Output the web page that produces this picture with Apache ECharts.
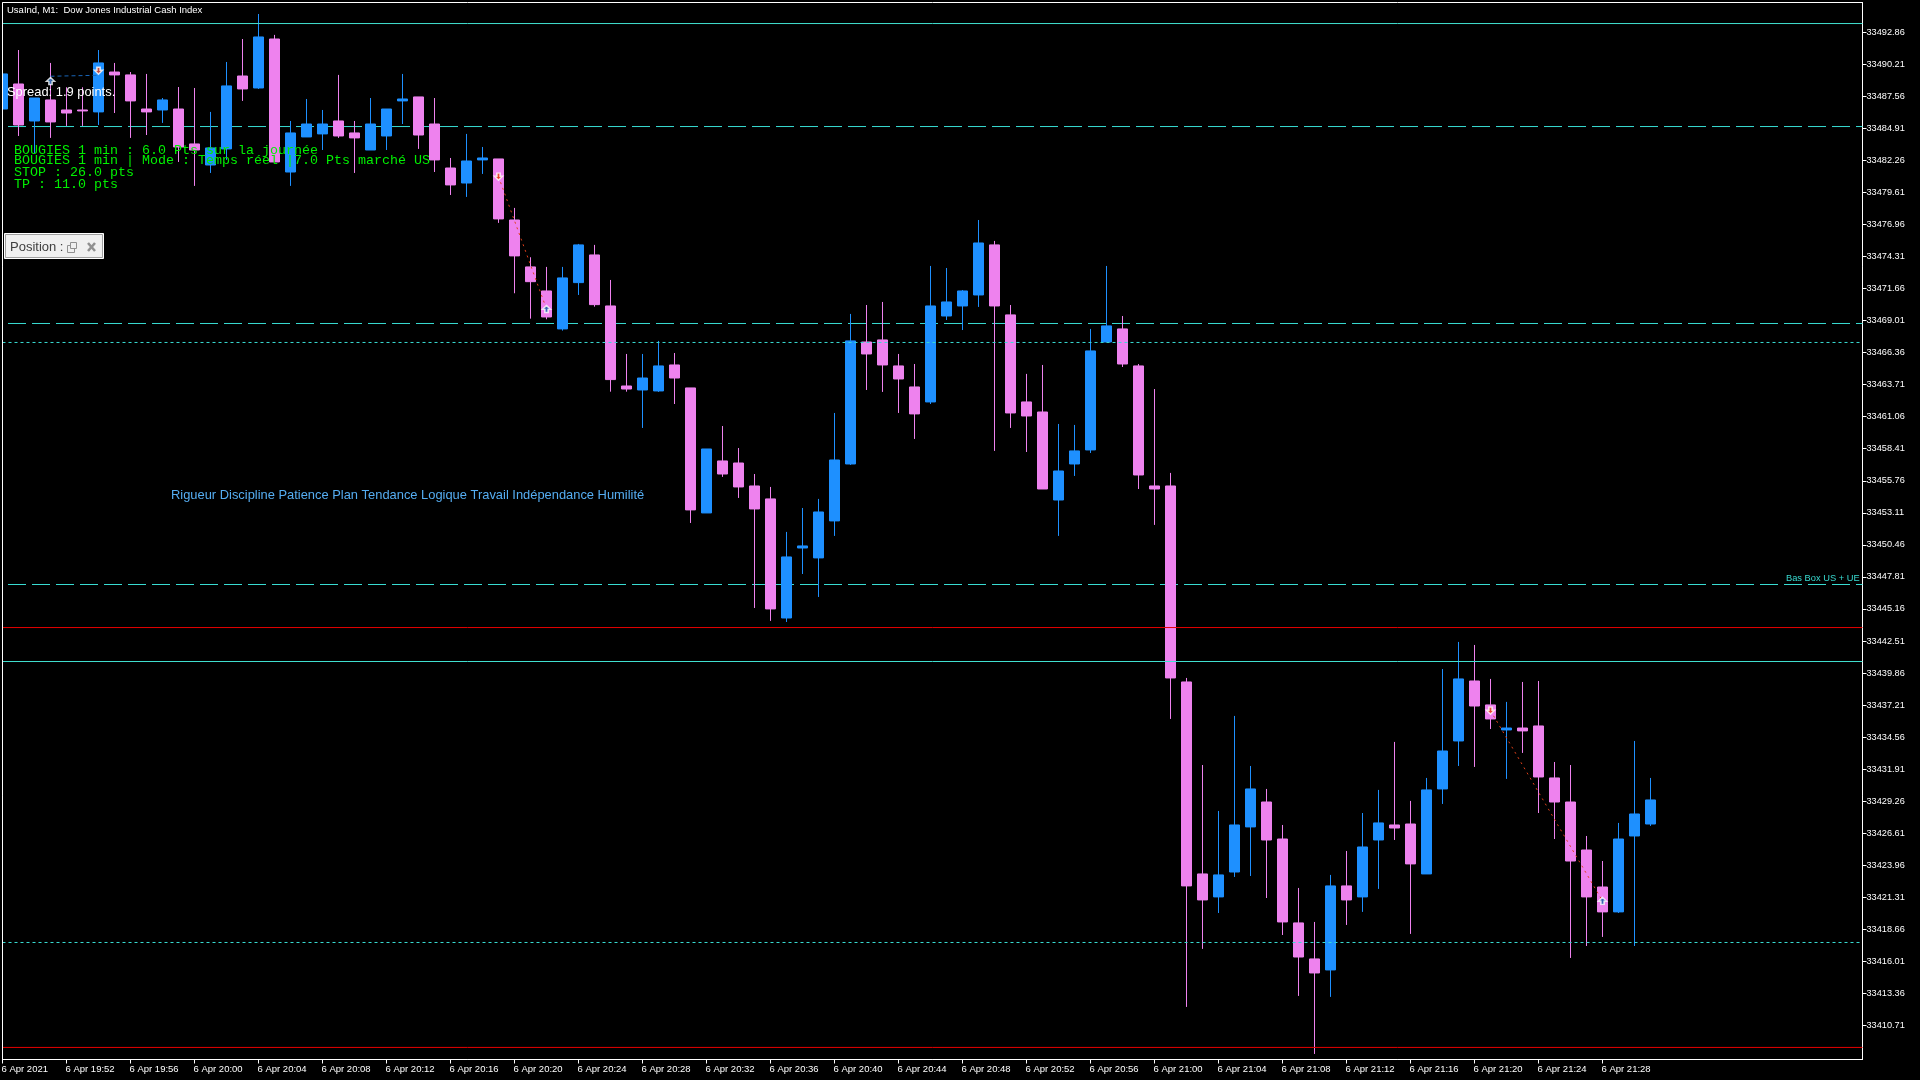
<!DOCTYPE html>
<html><head><meta charset="utf-8">
<style>html,body{margin:0;padding:0;background:#000}#c{width:1920px;height:1080px}</style>
<script src="https://cdn.jsdelivr.net/npm/echarts@6/dist/echarts.min.js"></script>
</head><body><div id="c"></div>
<script>
const opens=[33486.51,33488.58,33485.52,33487.26,33486.43,33486.43,33486.27,33489.57,33489.33,33486.51,33486.43,33486.51,33483.62,33481.88,33483.21,33489.24,33488.25,33492.30,33481.30,33484.20,33484.45,33485.52,33484.53,33483.12,33484.28,33487.18,33487.51,33485.27,33481.63,33480.39,33482.30,33482.38,33477.33,33473.45,33471.46,33468.32,33472.15,33474.44,33470.22,33463.60,33463.27,33463.19,33465.34,33463.44,33453.10,33457.40,33457.23,33455.33,33454.26,33444.41,33450.20,33449.38,33452.44,33457.15,33467.24,33467.41,33465.26,33463.52,33462.28,33469.39,33470.22,33471.13,33475.27,33469.48,33462.28,33461.45,33454.17,33457.15,33458.31,33467.24,33468.32,33465.26,33455.33,33455.33,33439.12,33423.24,33421.34,33423.40,33427.13,33429.19,33426.13,33419.19,33416.21,33415.30,33422.25,33421.34,33426.05,33427.29,33427.37,33423.24,33430.27,33434.24,33439.20,33437.22,33435.15,33435.31,33435.48,33431.18,33429.19,33425.22,33422.16,33420.10,33426.38,33427.37];
const closes=[33489.41,33485.19,33487.42,33485.44,33486.18,33486.35,33490.32,33489.33,33487.18,33486.27,33487.26,33483.37,33483.12,33483.29,33488.42,33488.17,33492.47,33482.13,33484.53,33485.27,33485.27,33484.28,33484.12,33485.27,33486.51,33487.34,33484.36,33482.30,33480.23,33482.21,33482.46,33477.42,33474.36,33472.23,33469.31,33472.54,33475.27,33470.33,33464.13,33463.35,33464.26,33465.26,33464.26,33453.35,33458.39,33456.32,33455.25,33453.43,33445.16,33449.46,33450.37,33453.18,33457.48,33467.33,33466.25,33465.34,33464.18,33461.29,33470.22,33470.55,33471.46,33475.43,33470.22,33461.37,33461.12,33455.08,33456.57,33458.23,33466.50,33468.57,33465.42,33456.24,33455.08,33439.45,33422.25,33421.09,33423.16,33427.29,33430.27,33426.05,33419.27,33416.37,33415.05,33422.25,33421.09,33425.47,33427.46,33427.04,33424.07,33430.19,33433.41,33439.37,33437.13,33436.06,33435.31,33435.07,33431.26,33429.19,33424.31,33421.34,33420.10,33426.13,33428.20,33429.36];
const lows=[33486.51,33484.28,33482.85,33484.12,33485.11,33485.11,33485.19,33486.18,33484.12,33484.36,33485.36,33482.13,33480.15,33481.22,33482.30,33487.18,33488.17,33482.13,33480.15,33484.20,33483.12,33484.12,33481.22,33483.12,33483.12,33485.27,33483.21,33481.30,33479.40,33479.24,33481.14,33477.09,33471.27,33469.17,33469.12,33468.18,33471.13,33470.16,33463.13,33463.13,33460.13,33463.11,33462.11,33452.27,33453.10,33456.08,33454.34,33445.24,33444.17,33444.08,33448.05,33446.15,33451.20,33457.07,33463.27,33463.11,33461.37,33459.22,33462.11,33469.06,33468.23,33470.14,33458.23,33460.13,33458.14,33455.08,33451.20,33456.16,33458.06,33467.24,33465.17,33455.08,33452.11,33436.06,33412.24,33417.04,33420.01,33422.99,33423.07,33421.25,33418.19,33413.15,33408.35,33413.07,33419.02,33420.10,33422.00,33426.05,33418.28,33423.24,33429.03,33432.17,33432.09,33435.23,33431.10,33433.25,33428.28,33426.13,33416.29,33417.28,33418.03,33420.01,33417.28,33427.21];
const highs=[33489.41,33491.39,33487.42,33490.32,33488.31,33488.31,33491.39,33490.32,33489.57,33489.41,33487.42,33488.33,33488.25,33486.27,33490.40,33492.30,33494.37,33492.64,33485.52,33487.34,33486.43,33489.33,33485.52,33487.42,33486.51,33489.41,33487.51,33487.42,33482.46,33484.45,33483.37,33482.38,33478.33,33474.25,33473.45,33473.45,33475.35,33475.27,33472.37,33466.25,33466.25,33467.33,33466.33,33463.44,33458.39,33460.29,33458.47,33456.32,33455.25,33451.53,33453.51,33454.26,33461.37,33469.56,33470.30,33470.55,33466.25,33465.42,33473.53,33473.36,33471.54,33477.33,33475.60,33470.30,33464.60,33465.34,33460.46,33460.38,33468.32,33473.53,33469.39,33465.42,33463.35,33456.41,33439.45,33432.25,33428.45,33436.31,33432.17,33430.27,33427.29,33422.08,33419.27,33423.16,33425.14,33428.28,33430.19,33434.16,33429.28,33431.18,33440.19,33442.43,33442.18,33439.37,33437.47,33439.12,33439.20,33432.50,33432.25,33426.38,33424.31,33427.46,33434.24,33431.18];

const priceTicks=[33492.86,33490.21,33487.56,33484.91,33482.26,33479.61,33476.96,33474.31,33471.66,33469.01,33466.36,33463.71,33461.06,33458.41,33455.76,33453.11,33450.46,33447.81,33445.16,33442.51,33439.86,33437.21,33434.56,33431.91,33429.26,33426.61,33423.96,33421.31,33418.66,33416.01,33413.36,33410.71];
const timeTickIndex=[0,4,8,12,16,20,24,28,32,36,40,44,48,52,56,60,64,68,72,76,80,84,88,92,96,100];
const timeLabels=['6 Apr 2021','6 Apr 19:52','6 Apr 19:56','6 Apr 20:00','6 Apr 20:04','6 Apr 20:08','6 Apr 20:12','6 Apr 20:16','6 Apr 20:20','6 Apr 20:24','6 Apr 20:28','6 Apr 20:32','6 Apr 20:36','6 Apr 20:40','6 Apr 20:44','6 Apr 20:48','6 Apr 20:52','6 Apr 20:56','6 Apr 21:00','6 Apr 21:04','6 Apr 21:08','6 Apr 21:12','6 Apr 21:16','6 Apr 21:20','6 Apr 21:24','6 Apr 21:28'];

const solidLevels=[33493.58,33440.81];
const dashedLevels=[33485.06,33468.77,33447.18];
const dottedLevels=[33467.20,33417.57];
const redLevels=[33443.62,33408.89];

const tradeBlue=[[3,33489.22],[6,33489.30]];
const tradeRed1=[[31,33480.92],[34,33469.97]];
const tradeRed2=[[93,33436.75],[100,33421.01]];
const upArrows=[[3,33488.83],[34,33469.97],[100,33421.01]];
const downArrows=[[6,33489.68],[31,33480.92],[93,33436.75]];

const greenLines=['BOUGIES 1 min : 6.0 Pts sur la journée','BOUGIES 1 min | Mode : Temps réel |7.0 Pts marché US','STOP : 26.0 pts','TP : 11.0 pts'];
const slogan='Rigueur Discipline Patience Plan Tendance Logique Travail Indépendance Humilité';
const chartTitle='UsaInd, M1:  Dow Jones Industrial Cash Index';
const spreadText='Spread: 1.9 points.';
const boxLabel='Bas Box US + UE';
const panelText='Position :';

const xMax=116.25, yMin=33407.892, yMax=33495.32;
const UI='"Liberation Sans"';
const level=(p)=>[[0,p],[xMax,p]];
const lineS=(data,color,dash,offset,z,w)=>({type:'line',data,symbol:'none',silent:true,z,animation:false,
  lineStyle:{color,width:w||1,type:dash||'solid',dashOffset:offset||0}});

const series=[];
dashedLevels.forEach(p=>series.push(lineS(level(p),'#38DCD2',[18,6],18.5,1)));
series.push({type:'candlestick',z:2,barWidth:10,silent:true,animation:false,clip:true,encode:{x:0,y:[1,2,3,4]},
  data:opens.map((o,i)=>[i,o,closes[i],lows[i],highs[i]]),
  itemStyle:{color:'#1E90FF',color0:'#EE82EE',borderColor:'#1E90FF',borderColor0:'#EE82EE',borderWidth:1}});
solidLevels.forEach(p=>series.push(lineS(level(p),'#40E0D0',null,0,3)));
dottedLevels.forEach(p=>series.push(lineS(level(p),'#38DCD2',[3,3],0,3)));
redLevels.forEach(p=>series.push(lineS(level(p),'#E60000',null,0,3)));
series.push(lineS(tradeBlue,'#1A66B8',[4,3],0,4));
series.push(lineS(tradeRed1,'#E0401A',[2,4],0,4));
series.push(lineS(tradeRed2,'#E0401A',[2,4],0,4));
series.push({type:'scatter',z:5,silent:true,animation:false,data:upArrows,symbol:'path://M5 0 L10 5 L7 5 L7 9 L3 9 L3 5 L0 5 Z',symbolSize:[8,7],
  itemStyle:{color:'#0B5CA8',borderColor:'#FFFFFF',borderWidth:1.5}});
series.push({type:'scatter',z:5,silent:true,animation:false,data:downArrows,symbol:'path://M3 0 L7 0 L7 4 L10 4 L5 9 L0 4 L3 4 Z',symbolSize:[8,7],
  itemStyle:{color:'#E83A10',borderColor:'#FFFFFF',borderWidth:1.5}});

const txt=(x,y,text,font,size,fill,extra)=>({type:'text',z:100,silent:true,x,y,style:Object.assign({text,fill,font:size+'px '+font,textVerticalAlign:'middle',textBaseline:'middle'},extra||{})});
const graphic=[
  {type:'rect',z:90,silent:true,shape:{x:0,y:0,width:2,height:1060},style:{fill:'#000000'}},
  {type:'line',z:91,silent:true,shape:{x1:2.5,y1:2.5,x2:2.5,y2:1059.5},style:{stroke:'#FFFFFF',lineWidth:1}},
  txt(7,10,chartTitle,UI,9.5,'#FFFFFF'),
  txt(7,92,spreadText,UI,12.9,'#FFFFFF'),
  txt(14,150,greenLines[0],'"Liberation Mono"',13.33,'#00F000'),
  txt(14,160,greenLines[1],'"Liberation Mono"',13.33,'#00F000'),
  txt(14,172,greenLines[2],'"Liberation Mono"',13.33,'#00F000'),
  txt(14,184,greenLines[3],'"Liberation Mono"',13.33,'#00F000'),
  txt(171,495.5,slogan,UI,12.9,'#55ADF2'),
  txt(1786,578,boxLabel,UI,9.3,'#38DCD2'),
  {type:'rect',z:100,silent:true,shape:{x:4.5,y:233.5,width:99,height:25},style:{fill:'#F0F0F0',stroke:'#FFFFFF',lineWidth:1}},
  {type:'rect',z:100,silent:true,shape:{x:5.5,y:234.5,width:97,height:23},style:{fill:'#F0F0F0',stroke:'#A0A0A0',lineWidth:1}},
  txt(10,247,panelText,UI,13,'#404040'),
  {type:'rect',z:101,silent:true,shape:{x:67.5,y:245.5,width:7,height:7},style:{fill:'#F0F0F0',stroke:'#909090',lineWidth:1}},
  {type:'rect',z:101,silent:true,shape:{x:70.5,y:242.5,width:6,height:6},style:{fill:'#F0F0F0',stroke:'#909090',lineWidth:1}},
  {type:'line',z:101,silent:true,shape:{x1:88,y1:243,x2:95,y2:251},style:{stroke:'#909090',lineWidth:2.5}},
  {type:'line',z:101,silent:true,shape:{x1:95,y1:243,x2:88,y2:251},style:{stroke:'#909090',lineWidth:2.5}}
];

const chart=echarts.init(document.getElementById('c'),null,{renderer:'canvas'});
chart.setOption({
  backgroundColor:'#000000',animation:false,
  grid:{show:true,left:2.5,top:2.5,width:1860,height:1057,outerBoundsMode:'none',borderColor:'#FFFFFF',borderWidth:1,backgroundColor:'transparent'},
  xAxis:{type:'value',min:0,max:xMax,splitLine:{show:false},
    axisLine:{show:true,onZero:false,lineStyle:{color:'#FFFFFF',width:1}},
    axisTick:{show:true,length:4,customValues:timeTickIndex,lineStyle:{color:'#FFFFFF',width:1}},
    axisLabel:{show:true,customValues:timeTickIndex,align:'left',margin:5,padding:[0,0,0,-1],color:'#FFFFFF',fontFamily:'Liberation Sans',fontSize:9.5,
      formatter:(v)=>timeLabels[timeTickIndex.indexOf(v)]}},
  yAxis:{type:'value',position:'right',min:yMin,max:yMax,splitLine:{show:false},
    axisLine:{show:true,onZero:false,lineStyle:{color:'#FFFFFF',width:1}},
    axisTick:{show:true,length:4,customValues:priceTicks,lineStyle:{color:'#FFFFFF',width:1}},
    axisLabel:{show:true,customValues:priceTicks,margin:4,padding:[4,0,0,0],color:'#FFFFFF',fontFamily:'Liberation Sans',fontSize:9.2,
      formatter:(v)=>v.toFixed(2)}},
  series,graphic
});
</script></body></html>
